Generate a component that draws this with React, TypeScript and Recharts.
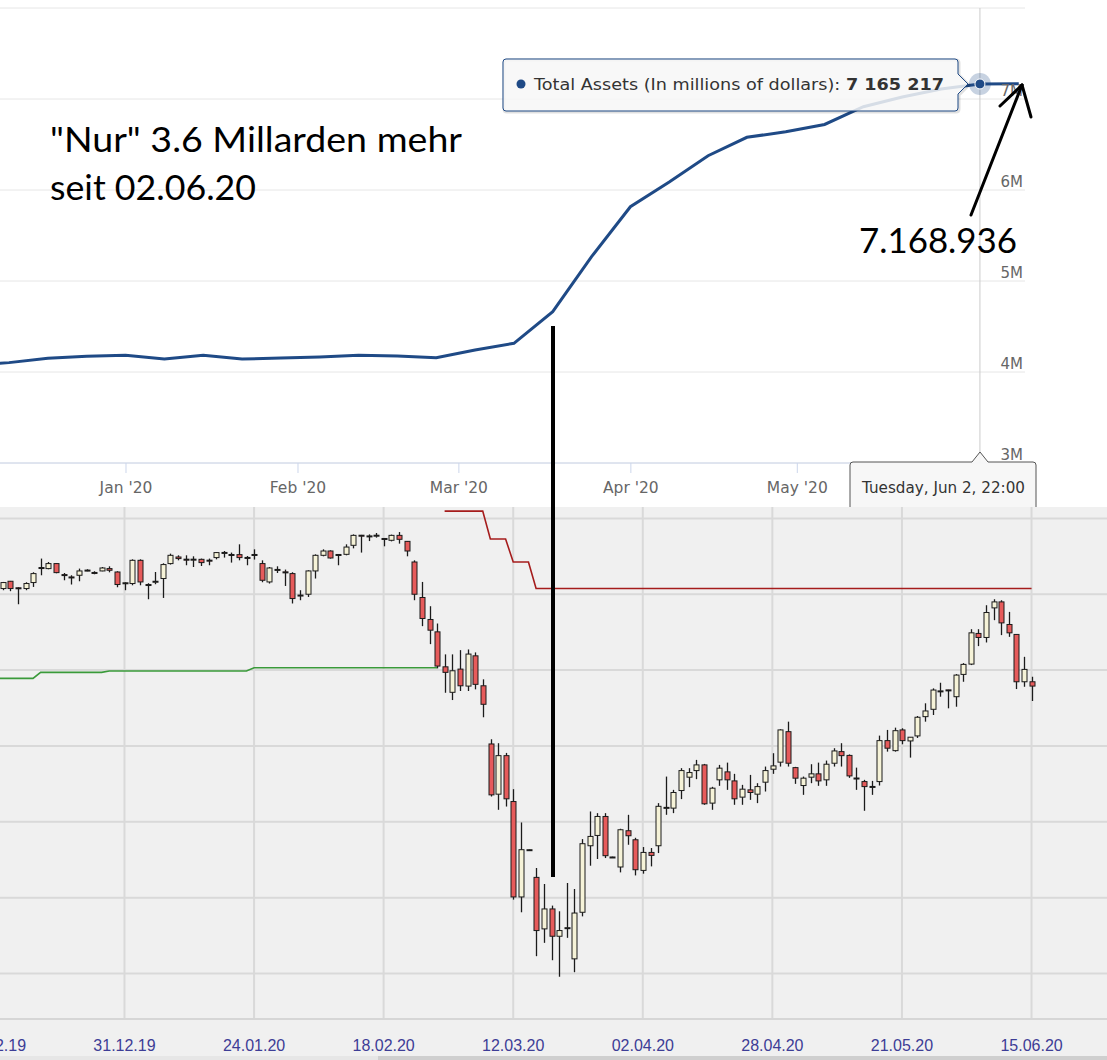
import React from "react";
import {
  LineChart,
  Line,
  XAxis,
  YAxis,
  CartesianGrid,
  ReferenceLine,
  ReferenceDot,
  ComposedChart,
  Bar,
} from "recharts";

const HOUR = 3600 * 1000;
const DAY = 24 * HOUR;

// Fed balance sheet, total assets (millions of dollars), weekly
const weekDates = [
  "2019-12-04", "2019-12-11", "2019-12-18", "2019-12-25", "2020-01-01", "2020-01-08",
  "2020-01-15", "2020-01-22", "2020-01-29", "2020-02-05", "2020-02-12", "2020-02-19",
  "2020-02-26", "2020-03-04", "2020-03-11", "2020-03-18", "2020-03-25", "2020-04-01",
  "2020-04-08", "2020-04-15", "2020-04-22", "2020-04-29", "2020-05-06", "2020-05-13",
  "2020-05-20", "2020-05-27", "2020-06-03", "2020-06-10",
];
const totalAssets = [
  4072000, 4103000, 4151000, 4173000, 4184000, 4143000,
  4184000, 4143000, 4154000, 4165000, 4184000, 4176000,
  4157000, 4242000, 4315000, 4663000, 5267000, 5816000,
  6088000, 6377000, 6579000, 6640000, 6720000, 6915000,
  7022000, 7110000, 7165217, 7168936,
];
const hoverWeek = "2020-06-03";

const monthTicks = ["2020-01-01", "2020-02-01", "2020-03-01", "2020-04-01", "2020-05-01"];
const monthLabels = ["Jan '20", "Feb '20", "Mar '20", "Apr '20", "May '20"];
const assetTicks = [3000000, 4000000, 5000000, 6000000, 7000000, 8000000];

// daily candles (index points)
const candleOpen = [
  13075, 13171, 13085, 13075, 13154, 13340, 13338, 13404, 13259, 13228, 13250, 13314, 13287, 13307, 13338, 13293, 13147,
  13141, 13447, 13128, 13162, 13207, 13404, 13491, 13462, 13458, 13460, 13449, 13483, 13547, 13524, 13522, 13485, 13520,
  13404, 13162, 13323, 13295, 13272, 12985, 13000, 13307, 13513, 13570, 13524, 13526, 13645, 13778, 13765, 13774, 13735,
  13711, 13776, 13697, 13425, 12957, 12667, 12504, 12043, 11707, 12013, 11789, 12188, 11793, 11026, 10364, 10872, 10267,
  9009, 9632, 9267, 8588, 8851, 8491, 8598, 8193, 8807, 9684, 9820, 10070, 9536, 9404, 9882, 9763, 9359, 9596,
  9684, 10186, 10180, 10412, 10588, 10675, 10750, 10246, 10553, 10658, 10539, 10325, 10421, 10364, 10522, 10693, 10786,
  11188, 10714, 10478, 10588, 10632, 10553, 10772, 10925, 10875, 10573, 10530, 10462, 10530, 11070, 10938, 11211, 11066,
  11132, 11386, 11483, 11722, 11739, 11649, 11943, 12079, 12483, 12430, 12820, 12899, 12601, 12470, 11846, 11846,
];
const candleHigh = [
  13162, 13175, 13092, 13158, 13290, 13470, 13425, 13408, 13280, 13250, 13338, 13329, 13303, 13359, 13368, 13303, 13158,
  13460, 13460, 13145, 13293, 13408, 13535, 13513, 13513, 13500, 13470, 13470, 13557, 13570, 13549, 13658, 13504, 13592,
  13447, 13359, 13368, 13325, 13290, 13053, 13316, 13526, 13592, 13579, 13526, 13658, 13789, 13782, 13789, 13807, 13737,
  13786, 13820, 13701, 13447, 13162, 12842, 12614, 12207, 12207, 12263, 12272, 12233, 11878, 11088, 11036, 10908, 10430,
  9991, 9636, 9391, 9180, 8895, 8820, 9193, 9114, 9772, 10136, 10114, 10114, 9540, 9908, 10092, 9789, 9667, 9654,
  10246, 10596, 10421, 10707, 10707, 10816, 10763, 10461, 10750, 10780, 10632, 10487, 10618, 10509, 10728, 10904, 11220,
  11320, 10724, 10596, 10759, 10780, 10807, 10970, 11036, 10888, 10714, 10553, 10539, 11136, 11211, 11241, 11233, 11118,
  11395, 11562, 11759, 11833, 11740, 11947, 12092, 12539, 12539, 12855, 12934, 12921, 12767, 12474, 12175, 11912,
];
const candleLow = [
  13053, 13040, 12868, 13053, 13096, 13250, 13329, 13276, 13184, 13128, 13171, 13303, 13263, 13303, 13289, 13092, 13053,
  13118, 13118, 12934, 13132, 12951, 13391, 13447, 13382, 13359, 13372, 13382, 13460, 13483, 13417, 13447, 13382, 13457,
  13158, 13141, 13280, 13109, 12878, 12921, 12964, 13207, 13500, 13470, 13382, 13513, 13605, 13549, 13701, 13746, 13632,
  13697, 13667, 13500, 12921, 12579, 12342, 12022, 11701, 11605, 11724, 11724, 11746, 11378, 10333, 10158, 10201, 8974,
  8807, 9628, 8228, 8404, 8175, 7957, 8470, 8017, 8753, 9421, 9509, 9522, 9532, 9333, 9697, 9293, 9316, 9412,
  9588, 10092, 10114, 10299, 10457, 10562, 10224, 10158, 10474, 10421, 10224, 10224, 10289, 10246, 10399, 10632, 10728,
  10728, 10500, 10355, 10509, 10474, 10474, 10728, 10728, 10579, 10421, 10145, 10355, 10478, 10925, 10925, 11022, 10846,
  11105, 11320, 11408, 11649, 11496, 11517, 11846, 12066, 12316, 12364, 12658, 12461, 12438, 11750, 11780, 11592,
];
const candleClose = [
  13154, 13075, 13080, 13141, 13272, 13352, 13404, 13285, 13250, 13224, 13307, 13318, 13283, 13346, 13316, 13128, 13151,
  13447, 13162, 13122, 13171, 13391, 13513, 13470, 13458, 13462, 13417, 13445, 13549, 13551, 13520, 13483, 13481, 13524,
  13184, 13346, 13327, 13291, 12943, 12989, 13307, 13513, 13570, 13478, 13516, 13622, 13776, 13774, 13769, 13778, 13731,
  13776, 13724, 13570, 13000, 12680, 12526, 12053, 11970, 11991, 11793, 12211, 11812, 11549, 10355, 10872, 10303, 9009,
  9632, 9632, 8566, 8851, 8491, 8566, 8604, 8797, 9711, 9807, 10070, 9553, 9536, 9895, 9816, 9368, 9596, 9557,
  10204, 10190, 10386, 10675, 10649, 10750, 10237, 10443, 10707, 10553, 10303, 10430, 10386, 10464, 10675, 10737, 11211,
  10772, 10575, 10575, 10632, 10539, 10759, 10934, 10872, 10605, 10577, 10464, 10466, 11070, 10970, 11201, 11070, 11115,
  11378, 11461, 11737, 11726, 11735, 11934, 12075, 12491, 12430, 12759, 12899, 12622, 12491, 11846, 12009, 11789,
];

// green support line and red stop line (candle index, level)
const supportIdx = [-1, 4, 5, 13, 14, 32, 33, 57];
const supportVal = [11891, 11891, 11970, 11970, 11987, 11987, 12030, 12030];
const stopIdx = [58, 63, 64, 66, 67, 69, 70, 135];
const stopVal = [14096, 14096, 13729, 13729, 13424, 13424, 13076, 13076];

const dateTickIndex = [-1, 16, 33, 50, 67, 84, 101, 118, 135];
const dateTickLabels = ["05.12.19", "31.12.19", "24.01.20", "18.02.20", "12.03.20", "02.04.20", "28.04.20", "21.05.20", "15.06.20"];
const priceGrid = [8000, 9000, 10000, 11000, 12000, 13000, 14000];

const NAVY = "#1f4a86";
const HC_FONT = "'DejaVu Sans', Verdana, sans-serif";

const toTime = (s: string) => {
  const [y, m, d] = s.split("-").map(Number);
  return Date.UTC(y, m - 1, d) - 2 * HOUR;
};
const monthTickTimes = monthTicks.map((s) => {
  const [y, m, d] = s.split("-").map(Number);
  return Date.UTC(y, m - 1, d);
});
const jan1 = Date.UTC(2020, 0, 1);
const topDomain = [jan1 - 22.71 * DAY, jan1 + 162.04 * DAY];

const assetRows = weekDates.map((d, i) => ({ t: toTime(d), v: totalAssets[i] }));
const candleRows = candleOpen.map((o, i) => ({
  i,
  open: o,
  high: candleHigh[i],
  low: candleLow[i],
  close: candleClose[i],
}));
const supportRows = supportIdx.map((i, k) => ({ i, v: supportVal[k] }));
const stopRows = stopIdx.map((i, k) => ({ i, v: stopVal[k] }));

const MonthTick = (p: any) => {
  const k = monthTickTimes.indexOf(p.payload.value);
  return (
    <text x={p.x} y={493} textAnchor="middle" fontSize={15.5} fill="#666666" fontFamily={HC_FONT}>
      {monthLabels[k]}
    </text>
  );
};

const AssetTick = (p: any) => {
  if (p.payload.value >= 8000000) return <g />;
  return (
    <text x={1023} y={p.y - 3} textAnchor="end" fontSize={15} fill="#666666" fontFamily={HC_FONT}>
      {p.payload.value / 1000000}M
    </text>
  );
};

const DateTick = (p: any) => {
  const k = dateTickIndex.indexOf(p.payload.value);
  return (
    <text x={p.x} y={544} textAnchor="middle" fontSize={16} fill="#3d3d96" fontFamily="'Liberation Sans', Arial, sans-serif">
      {dateTickLabels[k]}
    </text>
  );
};

const Candle = (props: any) => {
  const { x, y, width, height, payload } = props;
  if (x == null || y == null || !payload) return <g />;
  const top = Math.min(y, y + height);
  const span = Math.abs(height);
  const range = payload.high - payload.low;
  const k = range > 0 ? span / range : 0;
  const yOf = (v: number) => top + (payload.high - v) * k;
  const cx = Math.round(x + width / 2) + 0.5;
  const yO = yOf(payload.open);
  const yC = yOf(payload.close);
  const bodyTop = Math.min(yO, yC);
  const bodyH = Math.max(Math.abs(yO - yC), 1);
  const up = payload.close >= payload.open;
  return (
    <g>
      <line x1={cx} x2={cx} y1={top} y2={top + Math.max(span, 0.5)} stroke="#1b1b1b" strokeWidth={1.3} />
      <rect x={cx - 2.5} y={bodyTop} width={5} height={bodyH} fill={up ? "#f6f3d8" : "#e65b5b"} stroke="#1b1b1b" strokeWidth={1} />
    </g>
  );
};

function TopChart() {
  const hoverIdx = weekDates.indexOf(hoverWeek);
  const hoverT = toTime(hoverWeek);
  const hoverV = totalAssets[hoverIdx];
  const hoverDate = new Date(hoverT);
  const dateLabel =
    hoverDate.toLocaleString("en-US", { timeZone: "UTC", weekday: "long", month: "short", day: "numeric" }) +
    ", " +
    String(hoverDate.getUTCHours()).padStart(2, "0") +
    ":" +
    String(hoverDate.getUTCMinutes()).padStart(2, "0");
  const valueLabel = hoverV.toLocaleString("en-US").replace(/,/g, " ");

  const boxPath =
    "M 506 59 L 955 59 Q 958 59 958 62 L 958 74 L 968 84 L 958 94 L 958 108 Q 958 111 955 111 L 506 111 Q 503 111 503 108 L 503 62 Q 503 59 506 59 Z";
  const datePath =
    "M 853 462 L 972 462 L 980 452 L 988 462 L 1033 462 Q 1036 462 1036 465 L 1036 520 L 850 520 L 850 465 Q 850 462 853 462 Z";

  return (
    <div style={{ position: "absolute", left: 0, top: 0, width: 1107, height: 507, overflow: "hidden", background: "#ffffff" }}>
      <LineChart width={1107} height={508} data={assetRows} margin={{ top: 8, right: 0, bottom: 0, left: 0 }}>
        <CartesianGrid vertical={false} stroke="#e6e6e6" />
        <XAxis
          dataKey="t"
          type="number"
          domain={topDomain}
          allowDataOverflow
          ticks={monthTickTimes}
          interval={0}
          height={45}
          axisLine={{ stroke: "#ccd6eb" }}
          tickLine={{ stroke: "#ccd6eb" }}
          tickSize={10}
          tick={MonthTick}
        />
        <YAxis
          orientation="right"
          width={82}
          type="number"
          domain={[3000000, 8000000]}
          ticks={assetTicks}
          interval={0}
          axisLine={false}
          tickLine={false}
          tick={AssetTick}
        />
        <ReferenceLine x={hoverT} stroke="#cccccc" />
        <Line dataKey="v" type="linear" stroke={NAVY} strokeWidth={3} dot={false} activeDot={false} isAnimationActive={false} />
        <ReferenceDot x={hoverT} y={hoverV} r={11} fill="rgba(31,74,134,0.25)" stroke="none" />
        <ReferenceDot x={hoverT} y={hoverV} r={5} fill={NAVY} stroke="#ffffff" strokeWidth={1} />
      </LineChart>
      <svg width={1107} height={507} style={{ position: "absolute", left: 0, top: 0, pointerEvents: "none" }}>
        <path d={boxPath} transform="translate(1,1)" fill="none" stroke="rgba(0,0,0,0.12)" strokeWidth={3} />
        <path d={boxPath} fill="rgba(247,247,247,0.85)" stroke={NAVY} strokeWidth={1} />
        <circle cx={521} cy={84} r={4.5} fill={NAVY} />
        <text x={534} y={90} fontSize={16} fill="#333333" fontFamily={HC_FONT} textLength={410} lengthAdjust="spacingAndGlyphs">
          Total Assets (In millions of dollars):{" "}
          <tspan fontWeight="bold">{valueLabel}</tspan>
        </text>
        <path d={datePath} fill="rgba(247,247,247,0.95)" stroke="#555555" strokeWidth={1} />
        <text x={862} y={493} fontSize={15} fill="#333333" fontFamily={HC_FONT} textLength={163} lengthAdjust="spacingAndGlyphs">
          {dateLabel}
        </text>
      </svg>
    </div>
  );
}

function BottomChart() {
  return (
    <div style={{ position: "absolute", left: 0, top: 507, width: 1107, height: 553, background: "#f0f0f0", overflow: "hidden" }}>
      <ComposedChart width={1107} height={553} data={candleRows} margin={{ top: 0, right: 0, bottom: 0, left: 0 }}>
        <CartesianGrid stroke="#d9d9d9" strokeWidth={2} horizontalValues={priceGrid} verticalValues={dateTickIndex} />
        <XAxis
          dataKey="i"
          type="number"
          domain={[-0.33, 144.9]}
          allowDataOverflow
          ticks={dateTickIndex}
          interval={0}
          height={41}
          axisLine={{ stroke: "#d6d6d6", strokeWidth: 2 }}
          tickLine={false}
          tick={DateTick}
        />
        <YAxis hide type="number" domain={[7400, 14150]} ticks={priceGrid} allowDataOverflow />
        <Line data={supportRows} dataKey="v" type="linear" stroke="#3a9a3a" strokeWidth={1.6} dot={false} activeDot={false} isAnimationActive={false} />
        <Line data={stopRows} dataKey="v" type="linear" stroke="#a51c1c" strokeWidth={1.6} dot={false} activeDot={false} isAnimationActive={false} />
        <Bar dataKey={(d: any) => [d.low, d.high]} barSize={6} shape={Candle} isAnimationActive={false} />
      </ComposedChart>
      <div style={{ position: "absolute", left: 0, top: 549, width: 1107, height: 4, background: "#e6e6e6" }} />
      <div style={{ position: "absolute", left: 378, top: 549, width: 729, height: 4, background: "#cfcfcf" }} />
    </div>
  );
}

function Annotations() {
  const font = "Lato, 'Open Sans', sans-serif";
  return (
    <svg width={1107} height={1060} style={{ position: "absolute", left: 0, top: 0, pointerEvents: "none" }}>
      <text x={50} y={152} fontSize={35} fill="#000000" fontFamily={font} textLength={412} lengthAdjust="spacingAndGlyphs">
        "Nur" 3.6 Millarden mehr
      </text>
      <text x={50} y={200} fontSize={35} fill="#000000" fontFamily={font} textLength={206} lengthAdjust="spacingAndGlyphs">
        seit 02.06.20
      </text>
      <text x={859} y={253} fontSize={35} fill="#000000" fontFamily={font} textLength={158} lengthAdjust="spacingAndGlyphs">
        7.168.936
      </text>
      <line x1={553} y1={326} x2={553} y2={877} stroke="#000000" strokeWidth={4} />
      <g stroke="#000000" strokeWidth={3} strokeLinecap="round" fill="none">
        <line x1={971} y1={215} x2={1022} y2={85} />
        <line x1={1022} y1={85} x2={1000} y2={106} />
        <line x1={1022} y1={85} x2={1031} y2={117} />
      </g>
    </svg>
  );
}

export default function App() {
  return (
    <div style={{ position: "absolute", left: 0, top: 0, width: 1107, height: 1060, background: "#ffffff", overflow: "hidden" }}>
      <TopChart />
      <BottomChart />
      <Annotations />
    </div>
  );
}
